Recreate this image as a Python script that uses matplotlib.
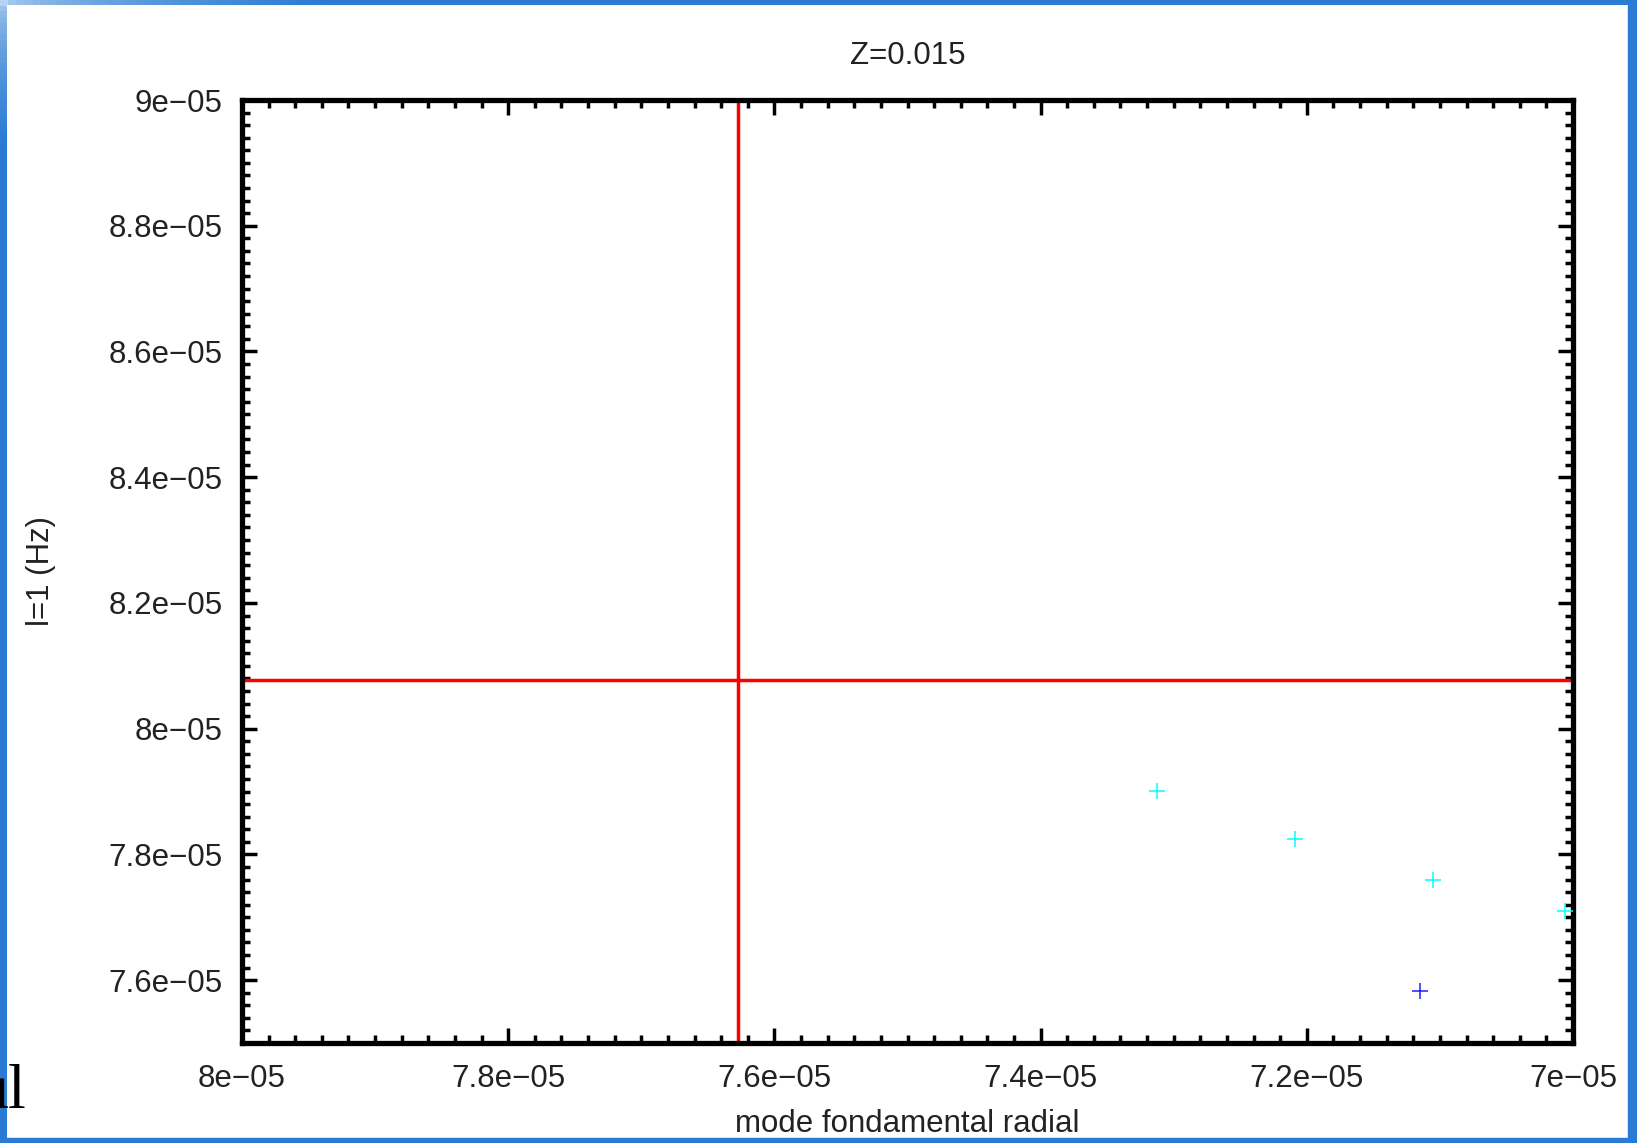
import numpy as np
import matplotlib.pyplot as plt
from matplotlib.ticker import MultipleLocator, FuncFormatter
from matplotlib.patches import Rectangle
from matplotlib.colors import LinearSegmentedColormap

# Data (Hz)
x_cyan = [7.3125e-5, 7.209e-5, 7.105e-5, 7.006e-5]
y_cyan = [7.901e-5, 7.8245e-5, 7.760e-5, 7.7105e-5]
x_blue = [7.115e-5]
y_blue = [7.583e-5]
x_ref = 7.6276e-5
y_ref = 8.0774e-5

title = "Z=0.015"
xlabel = "mode fondamental radial"
ylabel = "l=1 (Hz)"

plt.rcParams['font.family'] = ['Liberation Sans', 'DejaVu Sans']

W, H = 1637, 1143
fig = plt.figure(figsize=(W / 100, H / 100), dpi=100)
ax = fig.add_axes([242 / W, 1 - 1043 / H, 1331 / W, 943 / H])

ax.axvline(x_ref, color='#ff0000', linewidth=2.5, zorder=2)
ax.axhline(y_ref, color='#ff0000', linewidth=2.5, zorder=2)
ax.plot(x_cyan, y_cyan, linestyle='none', marker='+', markersize=11,
        markeredgewidth=1.1, color='#00ffff', zorder=3)
ax.plot(x_blue, y_blue, linestyle='none', marker='+', markersize=11,
        markeredgewidth=1.1, color='#2020ff', zorder=3)

ax.set_xlim(8e-5, 7e-5)
ax.set_ylim(7.5e-5, 9e-5)

ax.xaxis.set_major_locator(MultipleLocator(0.2e-5))
ax.xaxis.set_minor_locator(MultipleLocator(0.02e-5))
ax.yaxis.set_major_locator(MultipleLocator(0.2e-5))
ax.yaxis.set_minor_locator(MultipleLocator(0.02e-5))

fmt = FuncFormatter(lambda v, pos: ('%g' % v).replace('-', '\u2212'))
ax.xaxis.set_major_formatter(fmt)
ax.yaxis.set_major_formatter(fmt)

ax.tick_params(which='both', direction='in', top=True, right=True,
               labelsize=22.5, labelcolor='#222222')
ax.tick_params(which='major', length=11, width=2.5)
ax.tick_params(which='minor', length=5.5, width=2.5)
ax.tick_params(axis='y', pad=14)
ax.tick_params(axis='x', pad=15)

for s in ax.spines.values():
    s.set_linewidth(3.8)

ax.set_title(title, fontsize=22.5, pad=26, color='#222222')
ax.set_xlabel(xlabel, fontsize=22.5, labelpad=11, color='#222222')
ax.set_ylabel(ylabel, fontsize=22.5, labelpad=38, color='#222222')

# screenshot frame with a light gradient at the top-left corner
frame = '#2a7bd4'
grad = LinearSegmentedColormap.from_list('frame', ['#b8d3f0', frame])
top = fig.add_axes([0, 1 - 5 / H, 1, 5 / H], zorder=5)
top.imshow(np.linspace(0, 1, 200)[None, :] ** 0.5, cmap=grad, aspect='auto',
           extent=[0, 1, 0, 1], vmin=0, vmax=0.45)
top.set_axis_off()
left = fig.add_axes([0, 0, 7 / W, 1], zorder=5)
left.imshow(np.linspace(0, 1, 200)[:, None] ** 0.5, cmap=grad, aspect='auto',
            extent=[0, 1, 0, 1], vmin=0, vmax=0.35)
left.set_axis_off()
fig.patches.append(Rectangle((1628 / W, 0), 9 / W, 1, transform=fig.transFigure,
                             color=frame, zorder=5))
fig.patches.append(Rectangle((0, 0), 1, 5 / H, transform=fig.transFigure,
                             color=frame, zorder=5))

fig.text(26 / W, 1 - 1107 / H, "ul", family='Liberation Serif', fontsize=46,
         ha='right', va='baseline', color='black', zorder=6)

fig.savefig('out.png', dpi=100)
